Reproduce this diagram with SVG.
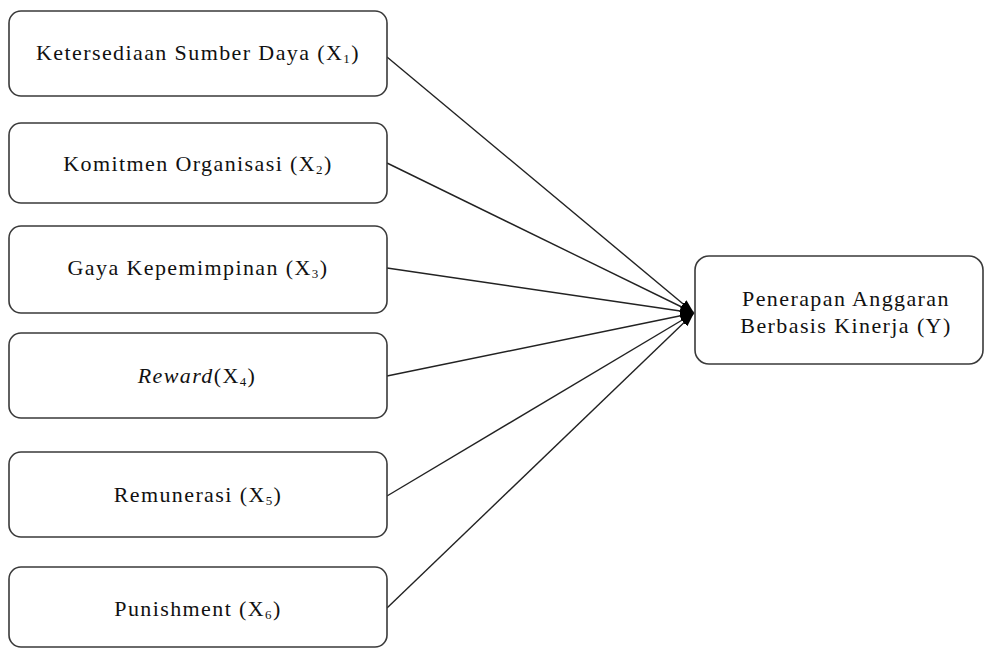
<svg xmlns="http://www.w3.org/2000/svg" width="987" height="649" viewBox="0 0 987 649">
<defs>
<style>
.box{fill:#fff;stroke:#3a3a3a;stroke-width:1.6}
.lbl{font-family:"Liberation Serif","Times New Roman",serif;font-size:22px;fill:#111;text-anchor:middle;letter-spacing:1.4px}
.sub{font-size:13px}
.conn line{stroke:#222;stroke-width:1.4}
</style>
<marker id="ah" viewBox="0 0 14 10" refX="14" refY="5" markerWidth="14" markerHeight="10" markerUnits="userSpaceOnUse" orient="auto">
<path d="M0,0 L14,5 L0,10 Z" fill="#000"/>
</marker>
</defs>
<rect width="987" height="649" fill="#fff"/>
<g id="connectors" class="conn">
<line x1="387" y1="57" x2="694" y2="313" marker-end="url(#ah)"/>
<line x1="387" y1="163" x2="694" y2="313" marker-end="url(#ah)"/>
<line x1="387" y1="268" x2="694" y2="313" marker-end="url(#ah)"/>
<line x1="387" y1="376" x2="694" y2="313" marker-end="url(#ah)"/>
<line x1="387" y1="496" x2="694" y2="313" marker-end="url(#ah)"/>
<line x1="387" y1="608" x2="694" y2="313" marker-end="url(#ah)"/>
</g>
<g id="x1">
<rect class="box" x="9" y="11" width="378" height="85" rx="12"/>
<text class="lbl" x="198" y="60">Ketersediaan Sumber Daya (X<tspan class="sub" dy="3">1</tspan><tspan dy="-3">)</tspan></text>
</g>
<g id="x2">
<rect class="box" x="9" y="123" width="378" height="80" rx="12"/>
<text class="lbl" x="198" y="171">Komitmen Organisasi (X<tspan class="sub" dy="3">2</tspan><tspan dy="-3">)</tspan></text>
</g>
<g id="x3">
<rect class="box" x="9" y="226" width="378" height="87" rx="12"/>
<text class="lbl" x="198" y="275">Gaya Kepemimpinan (X<tspan class="sub" dy="3">3</tspan><tspan dy="-3">)</tspan></text>
</g>
<g id="x4">
<rect class="box" x="9" y="333" width="378" height="85" rx="12"/>
<text class="lbl" x="197" y="383"><tspan font-style="italic">Reward</tspan>(X<tspan class="sub" dy="3">4</tspan><tspan dy="-3">)</tspan></text>
</g>
<g id="x5">
<rect class="box" x="9" y="452" width="378" height="85" rx="12"/>
<text class="lbl" x="198" y="502">Remunerasi (X<tspan class="sub" dy="3">5</tspan><tspan dy="-3">)</tspan></text>
</g>
<g id="x6">
<rect class="box" x="9" y="567" width="378" height="80" rx="12"/>
<text class="lbl" x="198" y="616">Punishment (X<tspan class="sub" dy="3">6</tspan><tspan dy="-3">)</tspan></text>
</g>
<g id="y">
<rect class="box" x="695" y="256" width="288" height="108" rx="14"/>
<text class="lbl" x="846" y="306">Penerapan Anggaran</text>
<text class="lbl" x="846" y="333">Berbasis Kinerja (Y)</text>
</g>
</svg>
